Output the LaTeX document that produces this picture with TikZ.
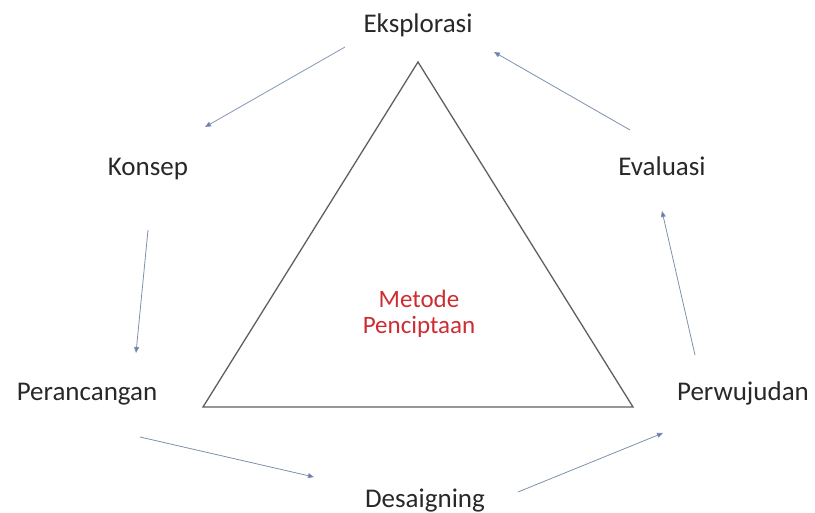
\documentclass[tikz,border=0pt]{standalone}
\usepackage{fontspec}
\setmainfont{Carlito}
\usetikzlibrary{arrows.meta}
\definecolor{txt}{RGB}{40,40,40}
\definecolor{redtxt}{RGB}{205,45,50}
\definecolor{arr}{RGB}{125,145,175}
\definecolor{tri}{RGB}{95,95,95}
\tikzset{
  lbl/.style={anchor=base, inner sep=0pt, text=txt, font=\fontsize{27}{27}\selectfont},
  redlbl/.style={inner sep=0pt, text=redtxt, align=center, font=\fontsize{25}{26}\selectfont},
  flow/.style={draw=arr, line width=0.8pt, -{Triangle[length=6pt,width=5pt,fill=arr!80!blue]}},
  tribox/.style={draw=tri, line width=1.3pt, line join=miter}
}
\begin{document}
\begin{tikzpicture}[x=1pt,y=-1pt]
\useasboundingbox (0,0) rectangle (815,513);
% triangle
\coordinate (T) at (418,62);
\coordinate (L) at (203,407);
\coordinate (R) at (633,407);
\draw[tribox] (T) -- (L) -- (R) -- cycle;
% labels
\node[lbl] (eks) at (418,33) {Eksplorasi};
\node[lbl] (kon) at (148,176) {Konsep};
\node[lbl] (eva) at (662,176) {Evaluasi};
\node[lbl] (per) at (87,401) {Perancangan};
\node[lbl] (pwj) at (743,401) {Perwujudan};
\node[lbl] (des) at (425,507) {Desaigning};
\node[redlbl] (met) at (419,314) {Metode\\Penciptaan};
% arrow endpoints
\coordinate (a1s) at (345,47);  \coordinate (a1e) at (205,127);
\coordinate (a2s) at (148,230); \coordinate (a2e) at (136,353);
\coordinate (a3s) at (140,437); \coordinate (a3e) at (314,477);
\coordinate (a4s) at (518,492); \coordinate (a4e) at (663,433);
\coordinate (a5s) at (695,355); \coordinate (a5e) at (662,211);
\coordinate (a6s) at (630,130); \coordinate (a6e) at (494,52);
\draw[flow] (a1s) -- (a1e);
\draw[flow] (a2s) -- (a2e);
\draw[flow] (a3s) -- (a3e);
\draw[flow] (a4s) -- (a4e);
\draw[flow] (a5s) -- (a5e);
\draw[flow] (a6s) -- (a6e);
\end{tikzpicture}
\end{document}
